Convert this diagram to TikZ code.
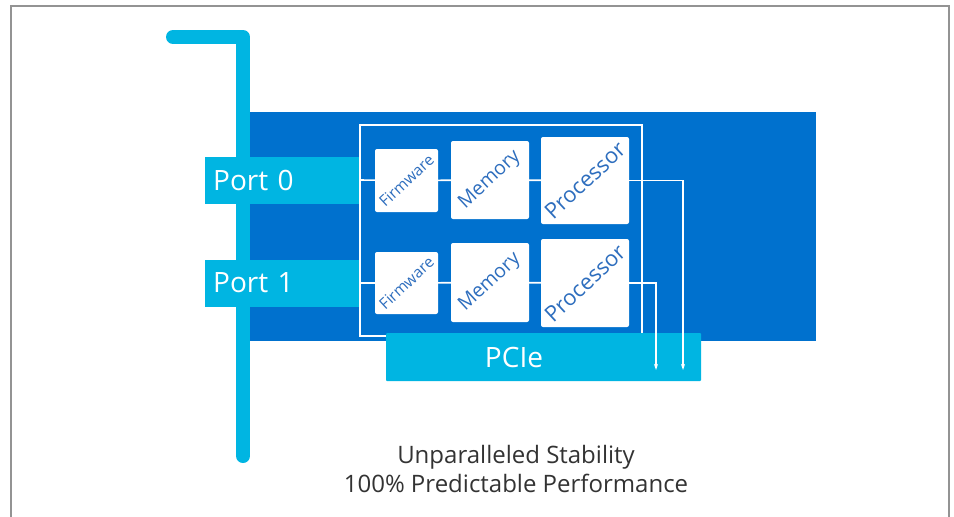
\documentclass[tikz,border=0pt]{standalone}
\usepackage{fontspec}
\setmainfont{Open Sans}
\usetikzlibrary{arrows.meta}
\definecolor{cardblue}{RGB}{0,113,206}
\definecolor{skyblue}{RGB}{0,181,226}
\definecolor{labelblue}{RGB}{46,110,190}
\definecolor{captiongray}{RGB}{51,51,51}
\tikzset{>={Stealth[length=6pt,width=4pt]}}
\begin{document}
\begin{tikzpicture}
                [x=1pt,y=-1pt,
                 chip/.style={fill=white,rounded corners=2pt,inner sep=0pt},
                 chiplabel/.style={text=labelblue,rotate=43,inner sep=0pt},
                 portbox/.style={fill=skyblue,text=white,font=\fontsize{28}{30}\selectfont,
                   minimum height=47pt,text width=138pt,inner xsep=8pt,align=left,anchor=west},
                 wire/.style={white,line width=1.6pt}]
                \useasboundingbox (0,0) rectangle (954,517);
                \draw[gray!85,line width=1.8pt] (11,517) -- (11,6) -- (949,6) -- (949,517);

                \fill[cardblue] (250,112) rectangle (816,341);
                \draw[skyblue,line width=14pt,line cap=round,line join=round] (173,37) -- (243,37) -- (243,456);

                \node[portbox] (port0) at (205,180) {Port 0};
                \node[portbox] (port1) at (205,283) {Port 1};

                \draw[white,line width=1.8pt] (360,125) rectangle (642,336);

                \node[chip,minimum width=63pt,minimum height=63pt] (fw0) at (406.5,180.5) {};
                \node[chip,minimum width=78pt,minimum height=78pt] (mem0) at (490,180) {};
                \node[chip,minimum width=88pt,minimum height=87pt] (proc0) at (585,180.5) {};
                \node[chip,minimum width=63pt,minimum height=62pt] (fw1) at (406.5,283) {};
                \node[chip,minimum width=78pt,minimum height=79pt] (mem1) at (490,282.5) {};
                \node[chip,minimum width=88pt,minimum height=88pt] (proc1) at (585,283) {};

                \node[chiplabel,font=\fontsize{15.5}{16}\selectfont] at (fw0) {Firmware};
                \node[chiplabel,font=\fontsize{19.5}{20}\selectfont] at (mem0) {Memory};
                \node[chiplabel,font=\fontsize{22}{22}\selectfont] at (proc0) {Processor};
                \node[chiplabel,font=\fontsize{15.5}{16}\selectfont] at (fw1) {Firmware};
                \node[chiplabel,font=\fontsize{19.5}{20}\selectfont] at (mem1) {Memory};
                \node[chiplabel,font=\fontsize{22}{22}\selectfont] at (proc1) {Processor};

                \node[fill=skyblue,rounded corners=1pt,minimum width=315pt,minimum height=48pt] (pcie) at (543.5,357) {};
                \node[text=white,font=\fontsize{28}{30}\selectfont] (pcietext) at (514,357) {PCIe};

                \coordinate (tip0) at (683,370);
                \coordinate (tip1) at (656,370);

                \draw[wire] (port0.east) -- (fw0) -- (mem0) -- (proc0);
                \draw[wire] (port1.east) -- (fw1) -- (mem1) -- (proc1);
                \draw[wire,->] (proc0.east) -| (tip0);
                \draw[wire,->] (proc1.east) -| (tip1);

                \node[text=captiongray,align=center,font=\fontsize{24}{29}\selectfont] (caption) at (516,469)
                  {Unparalleled Stability\\100\% Predictable Performance};
            \end{tikzpicture}
\end{document}
